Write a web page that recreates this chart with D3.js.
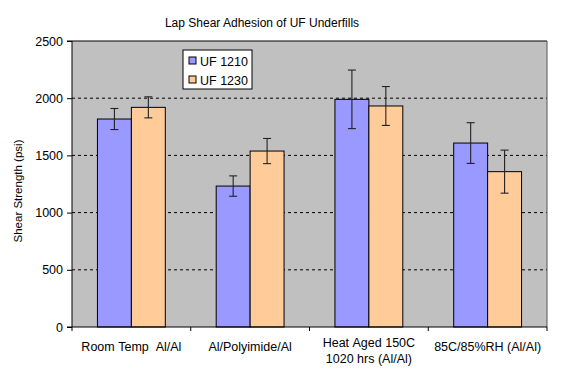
<!DOCTYPE html>
<html>
<head>
<meta charset="utf-8">
<script src="https://cdn.jsdelivr.net/npm/d3@7"></script>
<style>
  body { margin: 0; background: #fff; }
  svg { font-family: Arial, "Liberation Sans", sans-serif; }
  .grid-line { stroke: #000; stroke-dasharray: 3 3; }
</style>
</head>
<body>
<svg></svg>
<script>
// данные диаграммы
const categories = ["Room Temp  Al/Al", "Al/Polyimide/Al", "Heat Aged 150C\n1020 hrs (Al/Al)", "85C/85%RH (Al/Al)"];
const seriesNames = ["UF 1210", "UF 1230"];
const uf1210 = [1818, 1232, 1990, 1608];
const uf1210Err = [92, 89, 256, 178];
const uf1230 = [1920, 1538, 1932, 1358];
const uf1230Err = [92, 110, 170, 188];
const yTicks = [0, 500, 1000, 1500, 2000, 2500];
const colors = ["#9999FF", "#FFCC99"];

let width = 573;
let height = 384;
let plotLeft = 72, plotRight = 547, plotTop = 41, plotBottom = 327;

let svg = d3.select("svg").attr("width", width).attr("height", height);

let rows = categories.map((c, i) => ({
  cat: c,
  vals: [
    { s: seriesNames[0], v: uf1210[i], e: uf1210Err[i], k: 0 },
    { s: seriesNames[1], v: uf1230[i], e: uf1230Err[i], k: 1 },
  ],
}));

let scaleX = d3.scaleBand().domain(categories).range([plotLeft, plotRight]);
let scaleSub = d3
  .scaleBand()
  .domain(seriesNames)
  .range([0, scaleX.bandwidth()])
  .paddingOuter(0.75);
let scaleY = d3.scaleLinear().domain([0, 2500]).range([plotBottom, plotTop]);

// фон области построения
svg
  .append("rect")
  .attr("x", plotLeft)
  .attr("y", plotTop)
  .attr("width", plotRight - plotLeft)
  .attr("height", plotBottom - plotTop)
  .style("fill", "#C0C0C0");

// линии сетки
svg
  .selectAll(".grid-line")
  .data(yTicks.filter((d) => d > 0 && d < 2500))
  .enter()
  .append("line")
  .classed("grid-line", true)
  .attr("x1", plotLeft)
  .attr("x2", plotRight)
  .attr("y1", (d) => scaleY(d))
  .attr("y2", (d) => scaleY(d));

// рамка сверху и справа
svg.append("line").attr("x1", plotLeft).attr("x2", plotRight).attr("y1", plotTop).attr("y2", plotTop).style("stroke", "#000");
svg.append("line").attr("x1", plotRight).attr("x2", plotRight).attr("y1", plotTop).attr("y2", plotBottom).style("stroke", "#555");

// столбцы
let groups = svg
  .selectAll(".group")
  .data(rows)
  .enter()
  .append("g")
  .attr("transform", (d) => `translate(${scaleX(d.cat)},0)`);

groups
  .selectAll("rect")
  .data((d) => d.vals)
  .enter()
  .append("rect")
  .attr("x", (d) => scaleSub(d.s))
  .attr("y", (d) => scaleY(d.v))
  .attr("width", scaleSub.bandwidth())
  .attr("height", (d) => scaleY(0) - scaleY(d.v))
  .style("fill", (d) => colors[d.k])
  .style("stroke", "#000")
  .style("stroke-width", 1);

// планки погрешностей
let err = groups
  .selectAll(".err")
  .data((d) => d.vals)
  .enter()
  .append("g")
  .attr("transform", (d) => `translate(${scaleSub(d.s) + scaleSub.bandwidth() / 2},0)`)
  .style("stroke", "#222")
  .style("stroke-width", 1.1);
err.append("line").attr("y1", (d) => scaleY(d.v + d.e)).attr("y2", (d) => scaleY(d.v - d.e));
err.append("line").attr("x1", -4).attr("x2", 4).attr("y1", (d) => scaleY(d.v + d.e)).attr("y2", (d) => scaleY(d.v + d.e));
err.append("line").attr("x1", -4).attr("x2", 4).attr("y1", (d) => scaleY(d.v - d.e)).attr("y2", (d) => scaleY(d.v - d.e));

// ось OY
let axisY = d3.axisLeft(scaleY).tickValues(yTicks).tickSize(5).tickPadding(4).tickFormat(d3.format("d"));
svg
  .append("g")
  .attr("transform", `translate(${plotLeft},0)`)
  .call(axisY)
  .call((g) => g.select(".domain").attr("d", `M-5,${plotTop}H0V${plotBottom}H-5`))
  .call((g) => g.selectAll("text").style("font-size", "12.5px").style("fill", "#000"))
  .attr("font-family", null);

// ось OX
svg.append("line").attr("x1", plotLeft).attr("x2", plotRight).attr("y1", plotBottom).attr("y2", plotBottom).style("stroke", "#000");
let bounds = categories.map((c) => scaleX(c)).concat([plotRight]);
svg
  .selectAll(".xtick")
  .data(bounds)
  .enter()
  .append("line")
  .attr("x1", (d) => d)
  .attr("x2", (d) => d)
  .attr("y1", plotBottom)
  .attr("y2", plotBottom + 4)
  .style("stroke", "#000");

let xLabels = svg
  .selectAll(".xlabel")
  .data(categories)
  .enter()
  .append("text")
  .attr("text-anchor", "middle")
  .style("font-size", "12.5px")
  .attr("y", (d) => (d.includes("\n") ? 347 : 351));
xLabels
  .selectAll("tspan")
  .data((d) => d.split("\n").map((t) => ({ t, c: d })))
  .enter()
  .append("tspan")
  .attr("x", (d) => scaleX(d.c) + scaleX.bandwidth() / 2)
  .attr("dy", (d, i) => (i ? 16 : 0))
  .text((d) => d.t.replace(/ /g, "\u00a0"));

// заголовок и подпись оси
svg
  .append("text")
  .attr("x", 262)
  .attr("y", 27)
  .attr("text-anchor", "middle")
  .style("font-size", "12px")
  .text("Lap Shear Adhesion of UF Underfills");

svg
  .append("text")
  .attr("transform", "translate(22,191) rotate(-90)")
  .attr("text-anchor", "middle")
  .style("font-size", "11.5px")
  .style("fill", "#000")
  .text("Shear Strength (psi)");

// легенда
let legend = svg.append("g").attr("transform", "translate(183,50)");
legend.append("rect").attr("width", 69).attr("height", 39).style("fill", "#fff").style("stroke", "#000");
let items = legend
  .selectAll(".item")
  .data(seriesNames)
  .enter()
  .append("g")
  .attr("transform", (d, i) => `translate(6,${11 + i * 19})`);
items
  .append("rect")
  .attr("x", 0)
  .attr("y", -4)
  .attr("width", 7)
  .attr("height", 7)
  .style("fill", (d, i) => colors[i])
  .style("stroke", "#000");
items
  .append("text")
  .attr("x", 11)
  .attr("y", 4.5)
  .style("font-size", "12.5px")
  .text((d) => d);
</script>
</body>
</html>
